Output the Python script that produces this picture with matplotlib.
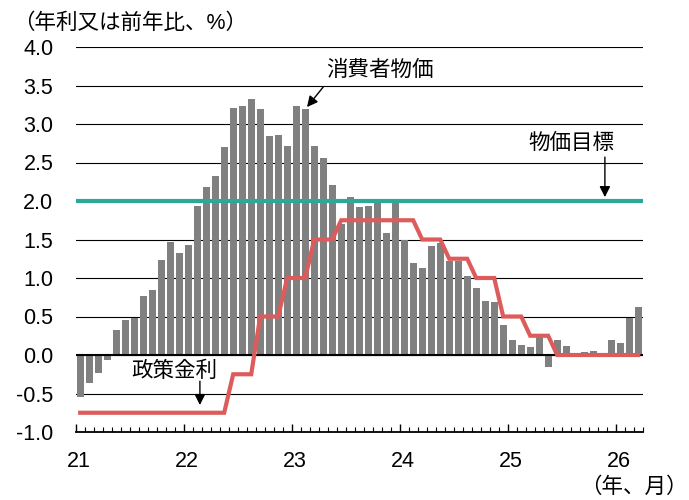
import matplotlib
matplotlib.use("Agg")
import matplotlib.pyplot as plt
import numpy as np

plt.rcParams['font.family'] = ['Liberation Sans', 'Noto Sans CJK JP', 'DejaVu Sans']
plt.rcParams['axes.unicode_minus'] = False

# ---- data ----
year_labels = ['21', '22', '23', '24', '25', '26']
cpi = [
    -0.54, -0.37, -0.23, -0.07, 0.32, 0.45, 0.48, 0.77, 0.84, 1.24, 1.47, 1.32,   # 2021
    1.43, 1.93, 2.18, 2.33, 2.70, 3.21, 3.24, 3.32, 3.19, 2.84, 2.86, 2.71,       # 2022
    3.23, 3.19, 2.71, 2.56, 2.21, 1.70, 2.05, 1.92, 1.93, 1.98, 1.59, 2.03,       # 2023
    1.50, 1.19, 1.13, 1.41, 1.45, 1.22, 1.22, 1.03, 0.87, 0.70, 0.69, 0.39,       # 2024
    0.19, 0.13, 0.11, 0.23, -0.15, 0.19, 0.12, 0.01, 0.04, 0.05, 0.00, 0.19,      # 2025
    0.16, 0.48, 0.62,                                                             # 2026
]
policy_rate = [
    -0.75, -0.75, -0.75, -0.75, -0.75, -0.75, -0.75, -0.75, -0.75, -0.75, -0.75, -0.75,
    -0.75, -0.75, -0.75, -0.75, -0.75, -0.25, -0.25, -0.25, 0.50, 0.50, 0.50, 1.00,
    1.00, 1.00, 1.50, 1.50, 1.50, 1.75, 1.75, 1.75, 1.75, 1.75, 1.75, 1.75,
    1.75, 1.75, 1.50, 1.50, 1.50, 1.25, 1.25, 1.25, 1.00, 1.00, 1.00, 0.50,
    0.50, 0.50, 0.25, 0.25, 0.25, 0.00, 0.00, 0.00, 0.00, 0.00, 0.00, 0.00,
    0.00, 0.00, 0.00,
]
price_target = 2.0
y_ticks = [-1.0, -0.5, 0.0, 0.5, 1.0, 1.5, 2.0, 2.5, 3.0, 3.5, 4.0]

# ---- figure ----
W, H = 689, 500
fig = plt.figure(figsize=(W / 100, H / 100), dpi=100)
ax = fig.add_axes([75.7 / W, 1 - 432 / H, (642.7 - 75.7) / W, (432 - 47) / H])

x = np.arange(len(cpi))
ax.bar(x, cpi, width=0.8, color='#808080', zorder=2, linewidth=0)
ax.axhline(0, color='black', lw=1.5, zorder=3)
ax.axhline(price_target, color='#2aa99b', lw=3, zorder=4)
ax.plot(x, policy_rate, color='#de5b5b', lw=3, zorder=5, solid_joinstyle='miter')

ax.set_xlim(-0.5, len(cpi) - 0.5)
ax.set_ylim(-1.0, 4.0)
ax.set_yticks(y_ticks)
ax.set_yticklabels([f'{v:.1f}' for v in y_ticks], fontsize=15.5)
ax.tick_params(axis='y', length=0, pad=16)
ax.grid(axis='y', color='black', lw=0.8)
ax.set_axisbelow(True)
for s in ['top', 'left', 'right']:
    ax.spines[s].set_visible(False)
ax.spines['bottom'].set_linewidth(1.3)

# x ticks: months (minor) and years (major), pointing upward
ax.set_xticks([12 * k - 0.5 for k in range(len(year_labels))])
ax.set_xticklabels([''] * len(year_labels))
ax.set_xticks(np.arange(-0.5, len(cpi), 1.0), minor=True)
ax.tick_params(axis='x', which='major', direction='in', length=6, width=1, color='black')
ax.tick_params(axis='x', which='minor', direction='in', length=3.5, width=0.8, color='black')
for k, lab in enumerate(year_labels):
    ax.annotate(lab, xy=(12 * k - 0.2, -1.0), xytext=(0, -14), textcoords='offset points',
                ha='center', va='top', fontsize=15.5)

# texts
fig.text(13 / W, 1 - 23 / H, '（年利又は前年比、%）', ha='left', va='center', fontsize=15.5)
fig.text(634 / W, 1 - 487 / H, '（年、月）', ha='center', va='center', fontsize=15.5)

arrow = dict(arrowstyle='-|>', color='black', lw=1.0, mutation_scale=16, shrinkA=0, shrinkB=0)
ax.text(33.3, 3.70, '消費者物価', ha='center', va='center', fontsize=15.5)
ax.annotate('', xy=(25.2, 3.22), xytext=(27.0, 3.48), arrowprops=arrow)
ax.text(54.6, 2.75, '物価目標', ha='center', va='center', fontsize=15.5)
ax.annotate('', xy=(58.3, 2.05), xytext=(58.3, 2.57), arrowprops=arrow)
ax.text(10.4, -0.21, '政策金利', ha='center', va='center', fontsize=15.5)
ax.annotate('', xy=(13.3, -0.65), xytext=(13.3, -0.34), arrowprops=arrow)

fig.savefig('out.png', dpi=100)
